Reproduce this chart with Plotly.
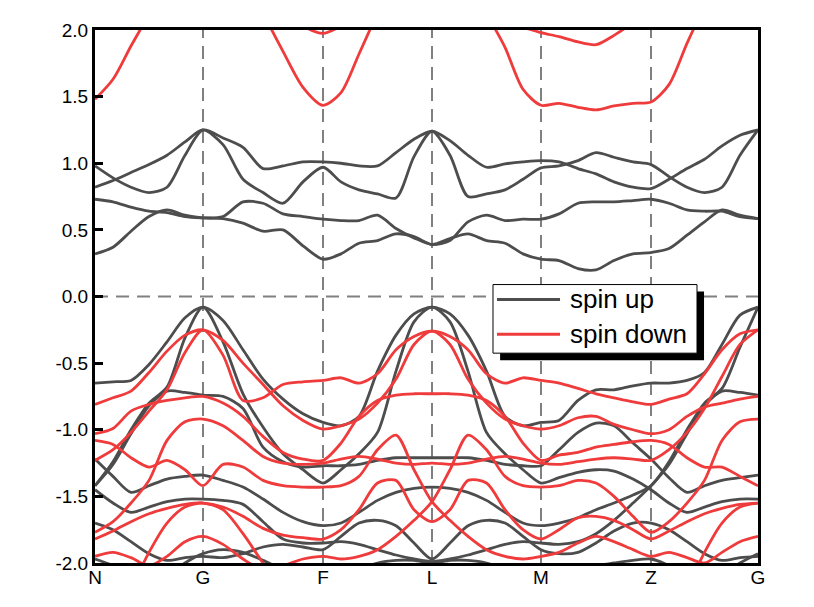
import plotly.graph_objects as go

# k-path grid (path distance, arbitrary units)
K = [0, 18, 36, 54, 72, 90, 108,
     128, 148, 168, 188, 208, 228,
     246, 264, 282.5, 301, 319, 337,
     355, 373, 391.5, 410, 428, 446,
     464, 483, 501, 519, 538, 556,
     574, 592, 609.5, 627, 645, 663]
K_TICKS = [0, 108, 228, 337, 446, 556, 663]
K_LABELS = ["N", "G", "F", "L", "M", "Z", "G"]
Y_TICKS = [-2.0, -1.5, -1.0, -0.5, 0.0, 0.5, 1.0, 1.5, 2.0]
SERIES_NAMES = ["spin up", "spin down"]
N = None

# ---- spin up (conduction) ----
up_c1 = [0.82, 0.87, 0.93, 0.99, 1.06, 1.16, 1.25, 1.14, 0.88, 0.78, 0.70, 0.86, 0.97,
         0.86, 0.80, 0.77, 0.74, 1.05, 1.24, 1.06, 0.75, 0.77, 0.80, 0.88, 0.965,
         0.98, 1.02, 1.08, 1.045, 1.01, 0.99, 0.90, 0.82, 0.78, 0.82, 1.06, 1.25]
up_c2 = [0.98, 0.89, 0.82, 0.78, 0.82, 1.06, 1.25, 1.19, 1.12, 0.96, 0.98, 1.01, 1.01,
         1.00, 0.98, 0.98, 1.08, 1.18, 1.24, 1.17, 1.06, 0.97, 0.995, 1.01, 1.02,
         1.01, 0.96, 0.92, 0.86, 0.82, 0.81, 0.88, 0.96, 1.03, 1.13, 1.21, 1.25]
up_c3 = [0.73, 0.71, 0.67, 0.64, 0.63, 0.60, 0.59, 0.585, 0.55, 0.49, 0.50, 0.38, 0.28,
         0.32, 0.40, 0.42, 0.47, 0.45, 0.39, 0.435, 0.47, 0.42, 0.40, 0.32, 0.28,
         0.27, 0.21, 0.20, 0.27, 0.32, 0.33, 0.36, 0.46, 0.56, 0.65, 0.61, 0.585]
up_c4 = [0.32, 0.37, 0.49, 0.60, 0.65, 0.61, 0.59, 0.60, 0.71, 0.70, 0.62, 0.60, 0.58,
         0.57, 0.57, 0.61, 0.51, 0.44, 0.39, 0.42, 0.56, 0.61, 0.57, 0.58, 0.58,
         0.62, 0.70, 0.71, 0.71, 0.72, 0.73, 0.70, 0.65, 0.64, 0.64, 0.60, 0.585]

# ---- spin up (valence) ----
up_v1 = [-0.65, -0.64, -0.63, -0.51, -0.34, -0.16, -0.08, -0.18, -0.40, -0.62, -0.77, -0.88, -0.945,
         -0.97, -0.90, -0.56, -0.29, -0.13, -0.08, -0.13, -0.29, -0.56, -0.90, -0.97, -0.945,
         -0.93, -0.78, -0.70, -0.70, -0.67, -0.65, -0.65, -0.63, -0.57, -0.36, -0.14, -0.08]
up_v2 = [-1.42, -1.24, -1.00, -0.80, -0.68, -0.31, -0.08, -0.34, -0.73, -0.98, -1.18, -1.30, -1.40,
         -1.30, -1.18, -1.02, -0.56, -0.19, -0.08, -0.19, -0.56, -1.02, -1.18, -1.30, -1.40,
         -1.36, -1.32, -1.30, -1.31, -1.37, -1.45, -1.55, -1.62, -1.58, -1.54, -1.52, -1.52]
up_v3 = [-1.42, -1.26, -1.03, -0.82, -0.71, -0.72, -0.74, -0.75, -0.84, -1.13, -1.24, -1.28, -1.27,
         -1.27, -1.26, -1.23, -1.21, -1.21, -1.21, -1.21, -1.21, -1.23, -1.26, -1.27, -1.27,
         -1.15, -1.02, -0.95, -0.97, -1.10, -1.22, -1.36, -1.47, -1.42, -1.38, -1.36, -1.34]
up_v4 = [-1.22, -1.35, -1.47, -1.42, -1.37, -1.35, -1.34, -1.38, -1.43, -1.52, -1.62, -1.69, -1.72,
         -1.70, -1.62, -1.53, -1.47, -1.44, -1.43, -1.44, -1.47, -1.53, -1.62, -1.70, -1.72,
         -1.70, -1.66, -1.60, -1.55, -1.49, -1.42, -1.24, -1.00, -0.80, -0.69, -0.38, -0.08]
up_v5 = [-1.45, -1.55, -1.62, -1.58, -1.54, -1.52, -1.52, -1.53, -1.56, -1.69, -1.82, -1.85, -1.85,
         -1.84, -1.86, -1.90, -1.94, -1.97, -1.99, -1.97, -1.94, -1.90, -1.86, -1.84, -1.85,
         -1.86, -1.84, -1.78, -1.68, -1.55, -1.42, -1.26, -1.03, -0.82, -0.71, -0.72, -0.74]
up_v6 = [-1.70, -1.75, -1.84, -1.93, -1.98, -1.96, -1.95, -1.96, -1.93, -1.88, -1.86, -1.88, -1.90,
         -1.80, -1.70, -1.68, -1.72, -1.85, -1.97, -1.85, -1.72, -1.68, -1.70, -1.80, -1.90,
         -1.93, -1.92, -1.85, -1.76, -1.70, -1.70, -1.75, -1.84, -1.93, -1.98, -1.96, -1.95]
up_v7 = [-1.97, -2.02, -2.10, -2.15, -2.10, -2.00, -1.93, -1.90, -1.92, -1.98, -2.05, -2.10, -2.10,
         -2.10, -2.05, -2.00, -1.98, -1.98, -2.00, -1.98, -1.98, -2.00, -2.05, -2.10, -2.10,
         -2.10, -2.05, -2.02, -2.00, -1.98, -1.97, -2.02, -2.10, -2.15, -2.10, -2.00, -1.93]

# ---- spin down (conduction) ----
dn_c1 = [1.48, 1.63, 1.88, 2.12, 2.40, N, N, N, N, N, N, N, N,
         N, N, N, N, N, N, N, N, N, N, N, N,
         N, N, N, N, N, N, N, N, N, N, N, N]
dn_c2 = [N, N, N, N, N, N, N, N, 2.45, 2.13, 1.84, 1.57, 1.435,
         1.53, 1.82, 2.13, 2.45, N, N, N, 2.45, 2.13, 1.87, 1.555, 1.435,
         1.45, 1.42, 1.40, 1.43, 1.45, 1.46, 1.59, 1.90, 2.18, 2.45, N, N]
dn_c3 = [N, N, N, N, N, N, N, N, N, N, 2.15, 2.03, 1.975,
         2.03, 2.12, N, N, N, N, N, N, N, 2.06, 2.02, 1.98,
         1.95, 1.91, 1.89, 1.96, 2.06, 2.20, N, N, N, N, N, N]

# ---- spin down (valence) ----
dn_v1 = [-0.81, -0.76, -0.71, -0.57, -0.41, -0.29, -0.25, -0.33, -0.50, -0.66, -0.82, -0.93, -0.995,
         -0.97, -0.92, -0.80, -0.62, -0.36, -0.26, -0.36, -0.62, -0.80, -0.92, -0.97, -0.995,
         -0.97, -0.91, -0.90, -0.96, -1.00, -1.03, -1.00, -0.90, -0.83, -0.80, -0.77, -0.75]
dn_v2 = [-1.23, -1.15, -1.02, -0.86, -0.70, -0.42, -0.25, -0.44, -0.78, -0.76, -0.66, -0.64, -0.63,
         -0.61, -0.65, -0.58, -0.40, -0.30, -0.26, -0.30, -0.40, -0.58, -0.65, -0.61, -0.63,
         -0.65, -0.69, -0.73, -0.76, -0.79, -0.81, -0.77, -0.73, -0.58, -0.40, -0.28, -0.25]
dn_v3 = [-1.03, -0.99, -0.86, -0.81, -0.78, -0.76, -0.75, -0.80, -0.90, -1.05, -1.17, -1.22, -1.23,
         -1.10, -0.90, -0.78, -0.74, -0.73, -0.73, -0.73, -0.74, -0.78, -0.90, -1.10, -1.23,
         -1.19, -1.17, -1.13, -1.11, -1.09, -1.08, -1.11, -1.21, -1.28, -1.28, -1.35, -1.42]
dn_v4 = [-1.77, -1.69, -1.55, -1.38, -1.08, -0.94, -0.92, -0.97, -1.08, -1.20, -1.25, -1.26, -1.25,
         -1.22, -1.20, -1.22, -1.25, -1.26, -1.25, -1.26, -1.25, -1.22, -1.20, -1.22, -1.25,
         -1.26, -1.24, -1.22, -1.21, -1.22, -1.23, -1.15, -1.02, -0.84, -0.60, -0.36, -0.25]
dn_v5 = [-1.08, -1.11, -1.21, -1.28, -1.23, -1.30, -1.42, -1.26, -1.28, -1.38, -1.42, -1.43, -1.43,
         -1.42, -1.35, -1.15, -1.04, -1.30, -1.54, -1.68, -1.80, -1.90, -1.95, -1.97, -1.95,
         -1.92, -1.85, -1.80, -1.84, -1.90, -1.95, -1.92, -1.96, -2.00, -1.92, -1.84, -1.80]
dn_v6 = [-1.82, -1.76, -1.69, -1.63, -1.59, -1.56, -1.55, -1.58, -1.65, -1.74, -1.79, -1.81, -1.82,
         -1.75, -1.60, -1.40, -1.38, -1.60, -1.69, -1.60, -1.38, -1.40, -1.60, -1.75, -1.82,
         -1.75, -1.66, -1.65, -1.68, -1.75, -1.82, -1.76, -1.69, -1.63, -1.59, -1.56, -1.55]
dn_v7 = [-1.95, -1.92, -1.96, -2.02, -1.95, -1.84, -1.80, -1.86, -1.97, -2.05, -2.02, -1.97, -1.95,
         -1.97, -1.95, -1.90, -1.80, -1.68, -1.54, -1.30, -1.04, -1.15, -1.35, -1.42, -1.43,
         -1.42, -1.38, -1.40, -1.50, -1.65, -1.77, -1.69, -1.55, -1.38, -1.08, -0.94, -0.92]
dn_v8 = [N, N, -2.20, -1.92, -1.70, -1.58, -1.55, -1.60, -1.78, -2.00, -2.20, N, N,
         N, N, N, N, N, N, N, N, N, N, N, N,
         N, N, N, N, N, N, N, -2.20, -1.92, -1.70, -1.58, -1.55]

spin_up = [up_c1, up_c2, up_c3, up_c4, up_v1, up_v2, up_v3, up_v4, up_v5, up_v6, up_v7]
spin_down = [dn_c1, dn_c2, dn_c3, dn_v1, dn_v2, dn_v3, dn_v4, dn_v5, dn_v6, dn_v7, dn_v8]

GRAY = "#4d4d4d"
RED = "#ef3b3b"
FONT = "Liberation Sans, Arial, sans-serif"

fig = go.Figure()
for i, band in enumerate(spin_up):
    fig.add_trace(go.Scatter(x=K, y=band, mode="lines", name=SERIES_NAMES[0],
                             legendgroup="up", showlegend=False,
                             line=dict(color=GRAY, width=2.8, shape="spline", smoothing=0.8),
                             hoverinfo="skip"))
for i, band in enumerate(spin_down):
    fig.add_trace(go.Scatter(x=K, y=band, mode="lines", name=SERIES_NAMES[1],
                             legendgroup="down", showlegend=False,
                             line=dict(color=RED, width=2.8, shape="spline", smoothing=0.8),
                             hoverinfo="skip"))

DASH = dict(color="#808080", width=2, dash="13px,8px")
shapes = []
for kx in K_TICKS[1:-1]:
    shapes.append(dict(type="line", xref="x", yref="y", x0=kx, x1=kx, y0=Y_TICKS[0], y1=Y_TICKS[-1],
                       line=DASH, layer="below"))
shapes.append(dict(type="line", xref="x", yref="y", x0=K_TICKS[0], x1=K_TICKS[-1], y0=0, y1=0,
                   line=DASH, layer="below"))

# boxed legend with drop shadow (paper coordinates)
shapes.append(dict(type="rect", xref="paper", yref="paper", x0=0.611, x1=0.9186, y0=0.3806, y1=0.5093,
                   fillcolor="black", line=dict(width=0), layer="above"))
shapes.append(dict(type="rect", xref="paper", yref="paper", x0=0.6003, x1=0.908, y0=0.3937, y1=0.5224,
                   fillcolor="white", line=dict(color="black", width=1), layer="above"))
LEG_Y = [0.4944, 0.4291]
for name, col, ly in zip(SERIES_NAMES, [GRAY, RED], LEG_Y):
    shapes.append(dict(type="line", xref="paper", yref="paper", x0=0.6063, x1=0.7014, y0=ly, y1=ly,
                       line=dict(color=col, width=3), layer="above"))

annotations = [dict(text=name, xref="paper", yref="paper", x=0.7134, y=ly, xanchor="left",
                    yanchor="middle", showarrow=False,
                    font=dict(family=FONT, size=26, color="black"))
               for name, ly in zip(SERIES_NAMES, LEG_Y)]

fig.update_layout(
    width=806, height=599,
    margin=dict(l=87, r=56, t=19, b=44),
    paper_bgcolor="white", plot_bgcolor="white",
    font=dict(family=FONT, color="black"),
    shapes=shapes,
    annotations=annotations,
    showlegend=False,
    xaxis=dict(range=[K_TICKS[0], K_TICKS[-1]], tickmode="array", tickvals=K_TICKS, ticktext=K_LABELS,
               showgrid=False, zeroline=False, showline=True, linecolor="black", linewidth=3,
               mirror=True, ticks="", ticklabelstandoff=-5,
               tickfont=dict(family=FONT, size=19, color="black")),
    yaxis=dict(range=[Y_TICKS[0], Y_TICKS[-1]], tickmode="array", tickvals=Y_TICKS,
               ticktext=[f"{v:.1f}" for v in Y_TICKS],
               showgrid=False, zeroline=False, showline=True, linecolor="black", linewidth=3,
               mirror=True, ticks="inside", ticklen=8, tickwidth=3, tickcolor="black",
               tickfont=dict(family=FONT, size=19, color="black")),
)

fig.write_html("out.html")
